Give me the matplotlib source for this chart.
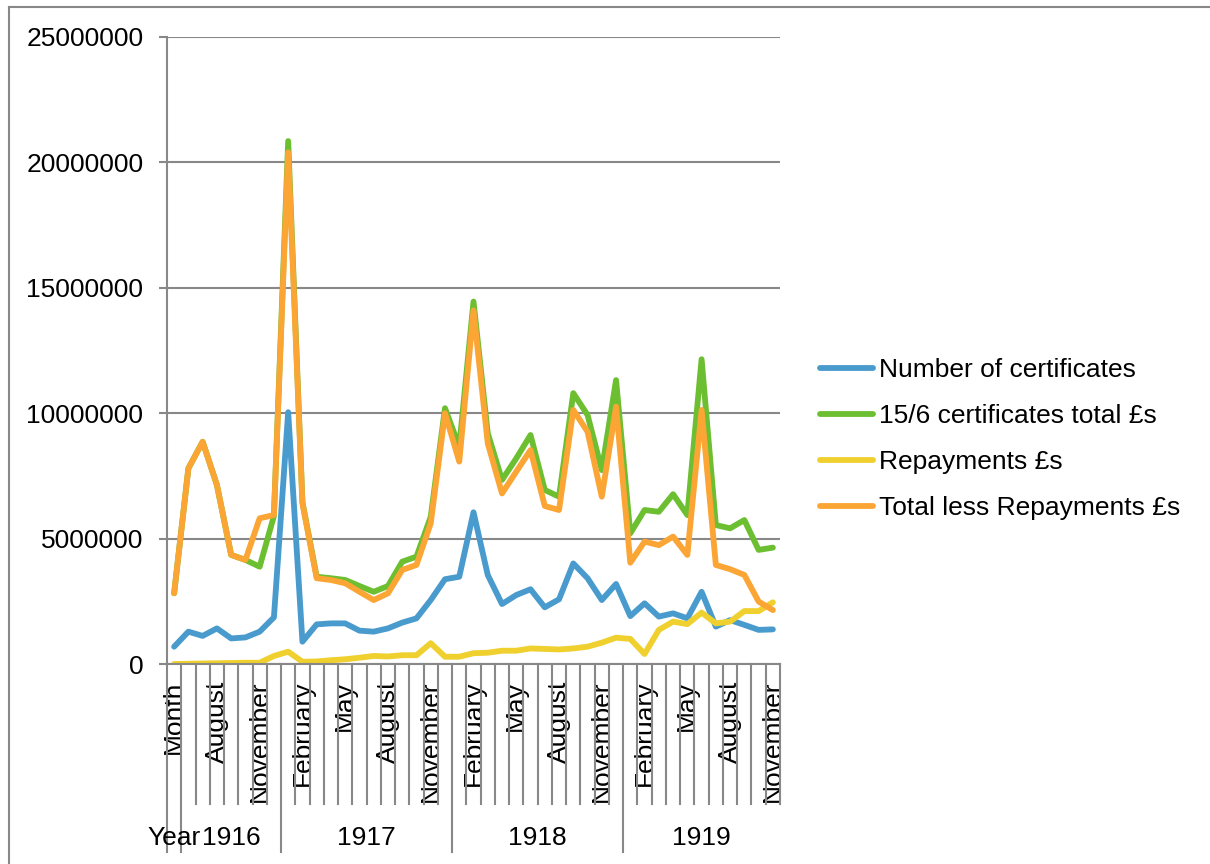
import numpy as np
import matplotlib
matplotlib.use('Agg')
import matplotlib.pyplot as plt
from matplotlib.lines import Line2D
import matplotlib.transforms as mtransforms

plt.rcParams['font.family'] = ['Liberation Sans', 'DejaVu Sans']

# category axis: a header row, then Jun 1916 .. Nov 1919
months = ['Month',
          'June', 'July', 'August', 'September', 'October', 'November', 'December',
          'January', 'February', 'March', 'April', 'May', 'June', 'July', 'August',
          'September', 'October', 'November', 'December',
          'January', 'February', 'March', 'April', 'May', 'June', 'July', 'August',
          'September', 'October', 'November', 'December',
          'January', 'February', 'March', 'April', 'May', 'June', 'July', 'August',
          'September', 'October', 'November']
years = ['Year', '1916', '1917', '1918', '1919']
year_sizes = [1, 7, 12, 12, 11]

certificates = [0.69e6, 1.29e6, 1.12e6, 1.42e6, 1.02e6, 1.06e6, 1.29e6, 1.86e6,
                10.04e6, 0.89e6, 1.58e6, 1.62e6, 1.62e6, 1.33e6, 1.29e6, 1.42e6,
                1.65e6, 1.82e6, 2.55e6, 3.38e6,
                3.48e6, 6.05e6, 3.55e6, 2.39e6, 2.75e6, 2.98e6, 2.26e6, 2.58e6,
                4.01e6, 3.42e6, 2.55e6, 3.19e6,
                1.91e6, 2.42e6, 1.89e6, 2.02e6, 1.82e6, 2.88e6, 1.49e6, 1.75e6,
                1.56e6, 1.36e6, 1.38e6]
total = [2.82e6, 7.80e6, 8.86e6, 7.14e6, 4.35e6, 4.15e6, 3.88e6, 5.90e6,
         20.85e6, 6.45e6, 3.48e6, 3.42e6, 3.35e6, 3.11e6, 2.88e6, 3.11e6,
         4.08e6, 4.28e6, 5.87e6, 10.2e6,
         8.66e6, 14.45e6, 9.2e6, 7.34e6, 8.2e6, 9.13e6, 6.94e6, 6.67e6,
         10.8e6, 9.93e6, 7.73e6, 11.32e6,
         5.21e6, 6.14e6, 6.07e6, 6.77e6, 5.94e6, 12.15e6, 5.54e6, 5.41e6,
         5.74e6, 4.55e6, 4.64e6]
repayments = [0.0, 0.01e6, 0.02e6, 0.03e6, 0.04e6, 0.05e6, 0.05e6, 0.32e6,
              0.49e6, 0.09e6, 0.10e6, 0.15e6, 0.19e6, 0.25e6, 0.32e6, 0.30e6,
              0.35e6, 0.35e6, 0.83e6, 0.29e6,
              0.29e6, 0.43e6, 0.45e6, 0.53e6, 0.53e6, 0.62e6, 0.60e6, 0.58e6,
              0.62e6, 0.69e6, 0.85e6, 1.05e6,
              1.0e6, 0.4e6, 1.36e6, 1.69e6, 1.59e6, 2.05e6, 1.62e6, 1.69e6,
              2.11e6, 2.11e6, 2.46e6]
less_repay = [2.82e6, 7.80e6, 8.86e6, 7.14e6, 4.35e6, 4.15e6, 5.81e6, 5.94e6,
              20.4e6, 6.41e6, 3.42e6, 3.35e6, 3.22e6, 2.88e6, 2.55e6, 2.82e6,
              3.75e6, 3.95e6, 5.61e6, 10.0e6,
              8.07e6, 14.1e6, 8.8e6, 6.8e6, 7.67e6, 8.53e6, 6.3e6, 6.14e6,
              10.13e6, 9.26e6, 6.67e6, 10.26e6,
              4.04e6, 4.88e6, 4.74e6, 5.08e6, 4.35e6, 10.13e6, 3.95e6, 3.78e6,
              3.55e6, 2.49e6, 2.15e6]

series = [
    ('Number of certificates', certificates, '#4A9BCD'),
    ('15/6 certificates total £s', total, '#6CBF31'),
    ('Repayments £s', repayments, '#EFD02E'),
    ('Total less Repayments £s', less_repay, '#FBA534'),
]

W, H = 1210, 864
fig = plt.figure(figsize=(W / 100, H / 100), dpi=100)
ax = fig.add_axes([167 / W, (H - 664) / H, (780 - 167) / W, (664 - 37) / H])

n = len(months)
x = np.arange(n) + 0.5
for name, vals, col in series:
    ax.plot(x, vals, color=col, lw=4.2, label=name,
            solid_capstyle='round', solid_joinstyle='round')

grey = '#888888'
ax.set_xlim(0, n)
ax.set_ylim(0, 25e6)
ax.set_yticks(np.arange(0, 25e6 + 1, 5e6))
ax.set_yticklabels([f'{int(v)}' for v in np.arange(0, 25e6 + 1, 5e6)], fontsize=19)
ax.yaxis.grid(True, color=grey, lw=1.5)
ax.set_axisbelow(True)
ax.tick_params(axis='y', length=6, width=1.5, color=grey, pad=11)

for s in ['top', 'right']:
    ax.spines[s].set_visible(False)
ax.spines['left'].set_color(grey)
ax.spines['left'].set_linewidth(1.5)
ax.spines['bottom'].set_color(grey)
ax.spines['bottom'].set_linewidth(1.5)

# month labels every third category
idx = list(range(0, n, 3))
ax.set_xticks(x[idx])
ax.set_xticklabels([months[i] for i in idx], rotation=90, fontsize=19,
                   ha='center', va='top')
ax.tick_params(axis='x', length=0, pad=12)

# category divider lines, longer at year boundaries
trans = mtransforms.blended_transform_factory(ax.transData, ax.transAxes)
ph = 664 - 37
short_y = -140 / ph
long_y = -188 / ph
bounds = np.cumsum([0] + year_sizes)
for b in range(n + 1):
    y1 = long_y if b in bounds[:-1] else short_y
    ax.add_line(Line2D([b, b], [0, y1], transform=trans, color=grey,
                       lw=1.5, clip_on=False))

# year labels centred under their groups
for yr, start, size in zip(years, bounds[:-1], year_sizes):
    ax.text(start + size / 2, (664 - 838) / ph, yr, transform=trans,
            ha='center', va='center', fontsize=19)

fig.legend(loc='center left', bbox_to_anchor=(820 / W, 1 - 439 / H),
           frameon=False, fontsize=19, handlelength=2.0, handletextpad=0.25,
           labelspacing=0.84, borderpad=0, borderaxespad=0)

# chart frame
fig.add_artist(Line2D([9 / W, 9 / W], [0, 1 - 7 / H], color=grey, lw=1.5))
fig.add_artist(Line2D([9 / W, 1], [1 - 7 / H, 1 - 7 / H], color=grey, lw=1.5))

fig.savefig('out.png', dpi=100)
